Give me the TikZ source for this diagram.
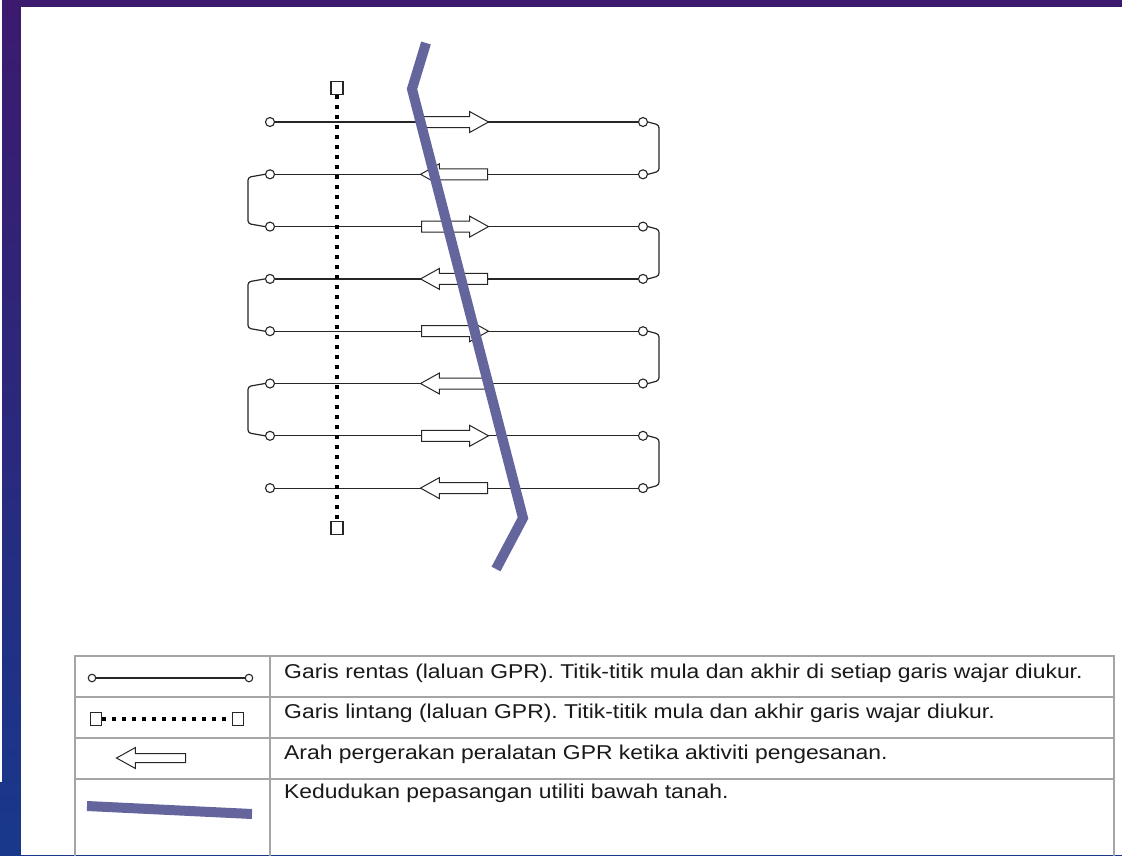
\documentclass[tikz,border=0pt]{standalone}
\usepackage{fontspec}
\setmainfont{Liberation Sans}
\newfontfamily\legfont[FakeStretch=1.145]{Liberation Sans}
\usetikzlibrary{shapes.arrows}
\definecolor{utilblue}{RGB}{101,101,158}
\definecolor{gridgray}{RGB}{165,165,165}
\definecolor{slidetop}{RGB}{60,26,110}
\definecolor{slidebot}{RGB}{24,56,140}
\tikzset{
  stn/.style={circle, draw=black!85, fill=white, line width=1.1pt, inner sep=0pt, minimum size=9pt},
  peg/.style={rectangle, draw=black!85, fill=white, line width=1.1pt, inner sep=0pt, minimum width=12pt, minimum height=13pt},
  run/.style={line width=1.2pt, black!85},
  dotline/.style={line width=4pt, dash pattern=on 4pt off 6pt},
  moveR/.style={single arrow, draw=black!85, fill=white, line width=1pt, inner xsep=0pt, inner ysep=5pt,
    single arrow head extend=5pt, single arrow tip angle=58, minimum height=67pt, anchor=tail},
  moveL/.style={moveR, shape border rotate=180},
  util/.style={utilblue, line width=10pt},
  tbl/.style={gridgray, line width=1.5pt},
  legtext/.style={anchor=base west, inner sep=0pt, text=black!90, font=\legfont\fontsize{20}{24}\selectfont},
}
\begin{document}
\begin{tikzpicture}[x=1pt, y=-1pt]
  \useasboundingbox (0,0) rectangle (1122,855);
  % slide background
  \shade[top color=slidetop, bottom color=slidebot] (0,0) rectangle (1122,855);
  \fill[white!92] (0,0) rectangle (2,782);
  \fill[white] (21,7) rectangle (1122,855);

  % survey lines
  \foreach \i in {0,...,7}{
    \pgfmathsetmacro\ry{122+52.3*\i}
    \node[stn] (L\i) at (270,\ry) {};
    \node[stn] (R\i) at (643,\ry) {};
    \draw[run] (L\i) -- (R\i);
  }
  \foreach \i in {0,2,4,6}{
    \pgfmathsetmacro\ry{122+52.3*\i}
    \node[moveR] (A\i) at (421,\ry) {};
  }
  \foreach \i in {1,3,5,7}{
    \pgfmathsetmacro\ry{122+52.3*\i}
    \node[moveL] (A\i) at (488,\ry) {};
  }
  % turns at the ends
  \foreach \i in {0,2,4,6}{
    \pgfmathtruncatemacro\j{\i+1}
    \draw[run, rounded corners=3pt] (R\i.east) -- ([xshift=11pt,yshift=-3pt]R\i.east)
      -- ([xshift=11pt,yshift=3pt]R\j.east) -- (R\j.east);
  }
  \foreach \i in {1,3,5}{
    \pgfmathtruncatemacro\j{\i+1}
    \draw[run, rounded corners=3pt] (L\i.west) -- ([xshift=-17pt,yshift=-3pt]L\i.west)
      -- ([xshift=-17pt,yshift=3pt]L\j.west) -- (L\j.west);
  }

  % cross line
  \node[peg] (T) at (337,88) {};
  \node[peg] (B) at (337,528) {};
  \draw[dotline] (T) -- (B);

  % utility
  \coordinate (U0) at (426,43);
  \coordinate (U1) at (412,89);
  \coordinate (U2) at (523,518);
  \coordinate (U3) at (496,569);
  \draw[util] (U0) -- (U1) -- (U2) -- (U3);

  % legend
  \draw[tbl] (75,860) -- (75,656) -- (1114,656) -- (1114,860);
  \draw[tbl] (270,656) -- (270,860);
  \foreach \yy in {697,738,779}{
    \draw[tbl] (75,\yy) -- (1114,\yy);
  }
  \node[stn, minimum size=7.5pt] (k1a) at (92,678) {};
  \node[stn, minimum size=7.5pt] (k1b) at (249,678) {};
  \draw[run] (k1a) -- (k1b);
  \node[peg, minimum width=11pt] (k2a) at (96,719) {};
  \node[peg, minimum width=11pt] (k2b) at (238,719) {};
  \draw[dotline] (k2a) -- (k2b);
  \node[moveL, minimum height=69pt, inner ysep=4pt, single arrow head extend=6pt] (k3) at (186,758) {};
  \coordinate (k4a) at (87,806);
  \coordinate (k4b) at (252,814);
  \draw[util] (k4a) -- (k4b);

  \node[legtext] (t1) at (284,678) {Garis rentas (laluan GPR). Titik-titik mula dan akhir di setiap garis wajar diukur.};
  \node[legtext] (t2) at (284,718) {Garis lintang (laluan GPR). Titik-titik mula dan akhir garis wajar diukur.};
  \node[legtext] (t3) at (284,759) {Arah pergerakan peralatan GPR ketika aktiviti pengesanan.};
  \node[legtext] (t4) at (284,798) {Kedudukan pepasangan utiliti bawah tanah.};
\end{tikzpicture}
\end{document}
